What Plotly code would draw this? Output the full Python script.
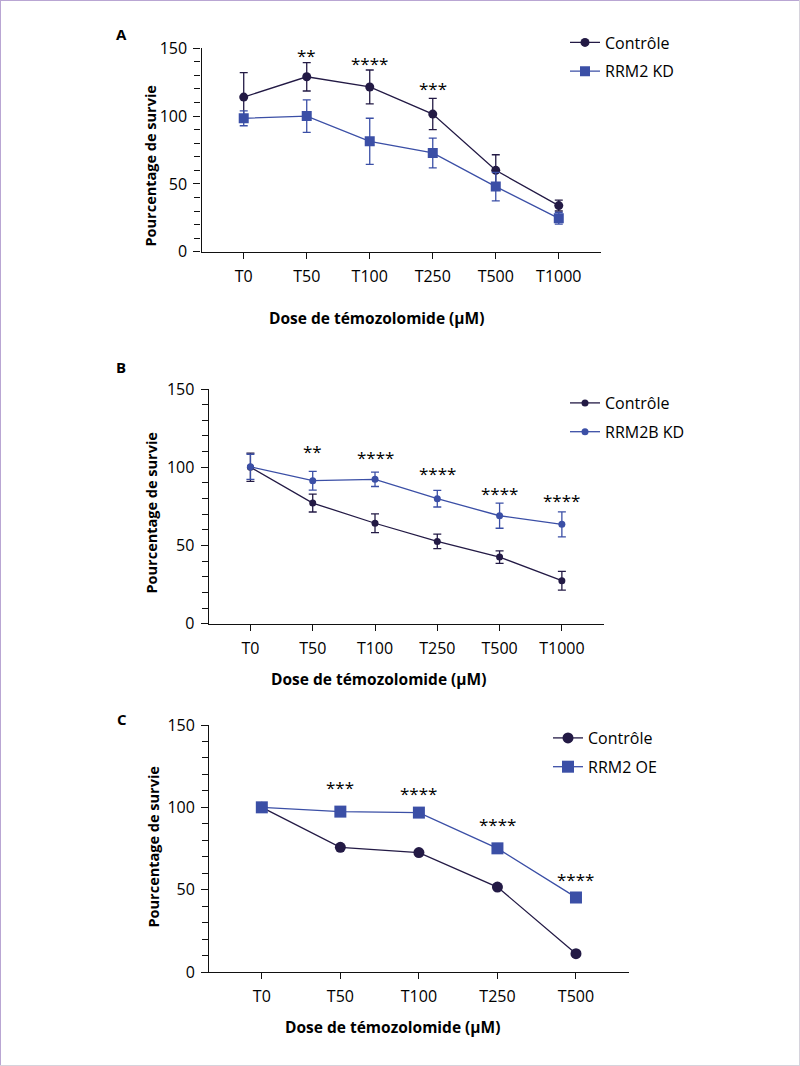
import plotly.graph_objects as go

# ---------------- data ----------------
doses_ab = ["T0", "T50", "T100", "T250", "T500", "T1000"]
doses_c = ["T0", "T50", "T100", "T250", "T500"]

# Panel A
a_ctrl = [114, 129, 121.5, 101.5, 60, 34]
a_ctrl_err = [18, 10.5, 12.5, 11.5, 11.5, 4]
a_kd = [98.4, 100, 81.4, 72.8, 48, 24.6]
a_kd_err = [5.5, 12, 17, 11, 10.5, 4.3]
a_stars = ["", "**", "****", "***", "", ""]
a_star_y = [0, 147, 141, 122.7, 0, 0]

# Panel B
b_ctrl = [100, 77.1, 64.2, 52.6, 42.6, 27.5]
b_ctrl_err = [9, 5.7, 6, 4.6, 4, 6]
b_kd = [100.3, 91.4, 92.3, 79.9, 69, 63.5]
b_kd_err = [8, 6, 4.6, 5.3, 8, 8]
b_stars = ["", "**", "****", "****", "****", "****"]
b_star_y = [0, 112.1, 108, 97.6, 85, 80.5]

# Panel C
c_ctrl = [100, 75.7, 72.5, 51.6, 11.1]
c_oe = [100, 97.4, 96.8, 75.1, 45.3]
c_stars = ["", "***", "****", "****", "****"]
c_star_y = [0, 113.7, 110.5, 91.7, 57.9]

names = {"ctrl": "Contrôle", "a": "RRM2 KD", "b": "RRM2B KD", "c": "RRM2 OE"}
x_title = "Dose de témozolomide (µM)"
y_title = "Pourcentage de survie"

# ---------------- styles ----------------
DARK = "#231a45"
BLUE = "#3b4fa6"
TXT = "#000"
FONT = "Open Sans"
W, H = 800, 1066


def px_x(p):
    return p / W


def px_y(p):
    return 1 - p / H


fig = go.Figure()


def err(vals, color):
    return dict(type="data", array=vals, visible=True, color=color,
                thickness=1.3, width=4)


# Panel A traces
fig.add_trace(go.Scatter(x=doses_ab, y=a_ctrl, name=names["ctrl"], mode="lines+markers",
                         line=dict(color=DARK, width=1.3),
                         marker=dict(symbol="circle", size=9, color=DARK),
                         error_y=err(a_ctrl_err, DARK), xaxis="x", yaxis="y",
                         legend="legend", legendgroup="a1"))
fig.add_trace(go.Scatter(x=doses_ab, y=a_kd, name=names["a"], mode="lines+markers",
                         line=dict(color=BLUE, width=1.3),
                         marker=dict(symbol="square", size=10, color=BLUE),
                         error_y=err(a_kd_err, BLUE), xaxis="x", yaxis="y",
                         legend="legend", legendgroup="a2"))
# Panel B traces
fig.add_trace(go.Scatter(x=doses_ab, y=b_ctrl, name=names["ctrl"], mode="lines+markers",
                         line=dict(color=DARK, width=1.3),
                         marker=dict(symbol="circle", size=7, color=DARK),
                         error_y=err(b_ctrl_err, DARK), xaxis="x2", yaxis="y2",
                         legend="legend2", legendgroup="b1"))
fig.add_trace(go.Scatter(x=doses_ab, y=b_kd, name=names["b"], mode="lines+markers",
                         line=dict(color=BLUE, width=1.3),
                         marker=dict(symbol="circle", size=7, color=BLUE),
                         error_y=err(b_kd_err, BLUE), xaxis="x2", yaxis="y2",
                         legend="legend2", legendgroup="b2"))
# Panel C traces
fig.add_trace(go.Scatter(x=doses_c, y=c_ctrl, name=names["ctrl"], mode="lines+markers",
                         line=dict(color=DARK, width=1.3),
                         marker=dict(symbol="circle", size=11, color=DARK),
                         xaxis="x3", yaxis="y3",
                         legend="legend3", legendgroup="c1"))
fig.add_trace(go.Scatter(x=doses_c, y=c_oe, name=names["c"], mode="lines+markers",
                         line=dict(color=BLUE, width=1.3),
                         marker=dict(symbol="square", size=12, color=BLUE),
                         xaxis="x3", yaxis="y3",
                         legend="legend3", legendgroup="c2"))

# ---------------- axes ----------------
tickfont = dict(family=FONT, size=16, color=TXT)


def xaxis(domain, anchor, n):
    return dict(domain=domain, anchor=anchor, type="category",
                range=[-0.67, n - 1 + 0.67], showline=True, linecolor="#111",
                linewidth=1.3, ticks="outside", ticklen=6, tickwidth=1.3,
                tickcolor="#111", tickfont=tickfont, showgrid=False,
                zeroline=False, ticklabelstandoff=4, automargin=False)


def yaxis(domain, anchor):
    return dict(domain=domain, anchor=anchor, range=[0, 150], tickvals=[0, 50, 100, 150],
                showline=True, linecolor="#111", linewidth=1.3, ticks="outside",
                ticklen=7, tickwidth=1.3, tickcolor="#111", tickfont=tickfont,
                minor=dict(dtick=10, ticks="outside", ticklen=6, tickwidth=1.3,
                           tickcolor="#111", showgrid=False),
                showgrid=False, zeroline=False, ticklabelstandoff=3, automargin=False)


fig.update_layout(
    xaxis=xaxis([px_x(201.5), px_x(601)], "y", len(doses_ab)),
    yaxis=yaxis([px_y(251.7), px_y(48.3)], "x"),
    xaxis2=xaxis([px_x(208.7), px_x(603.6)], "y2", len(doses_ab)),
    yaxis2=yaxis([px_y(623.7), px_y(389)], "x2"),
    xaxis3=xaxis([px_x(209.2), px_x(628.6)], "y3", len(doses_c)),
    yaxis3=yaxis([px_y(972), px_y(725)], "x3"),
)

# ---------------- legends ----------------
legfont = dict(family=FONT, size=16, color=TXT)


def legend(xpx, ypx):
    return dict(x=px_x(xpx), y=px_y(ypx), xanchor="left", yanchor="top",
                font=legfont, bgcolor="rgba(0,0,0,0)", tracegroupgap=5,
                traceorder="grouped", itemwidth=30)


fig.update_layout(
    legend=legend(565, 25.5),
    legend2=legend(565, 386),
    legend3=legend(548, 721),
)

# ---------------- annotations ----------------
ann = []
for xs, stars, ys, xr, yr in [(doses_ab, a_stars, a_star_y, "x", "y"),
                              (doses_ab, b_stars, b_star_y, "x2", "y2"),
                              (doses_c, c_stars, c_star_y, "x3", "y3")]:
    for xv, s, yv in zip(xs, stars, ys):
        if s:
            ann.append(dict(x=xv, y=yv, xref=xr, yref=yr, text=s, showarrow=False,
                            font=dict(family=FONT, size=17, color=TXT),
                            yshift=-3, xanchor="center", yanchor="middle"))

for letter, xpx, ypx in [("A", 121, 34), ("B", 121.4, 367), ("C", 122, 719)]:
    ann.append(dict(x=px_x(xpx), y=px_y(ypx), xref="paper", yref="paper", text=letter,
                    showarrow=False, font=dict(family=FONT, size=15, color=TXT, weight="bold"),
                    xanchor="center", yanchor="middle"))

# axis titles (placed like in the original figure)
for xpx, ypx in [(376, 318), (378, 679), (392, 1027)]:
    ann.append(dict(x=px_x(xpx), y=px_y(ypx), xref="paper", yref="paper", text=x_title,
                    showarrow=False,
                    font=dict(family=FONT, size=15.5, color=TXT, weight="bold"),
                    xanchor="center", yanchor="middle"))
for xpx, ypx in [(150.5, 166), (150.5, 513), (153, 847.5)]:
    ann.append(dict(x=px_x(xpx), y=px_y(ypx), xref="paper", yref="paper", text=y_title,
                    showarrow=False, textangle=-90,
                    font=dict(family=FONT, size=14.5, color=TXT, weight="bold"),
                    xanchor="center", yanchor="middle"))

fig.update_layout(annotations=ann)

# frame of the figure
fig.update_layout(shapes=[
    dict(type="line", xref="paper", yref="paper", x0=0, x1=0, y0=0, y1=1,
         line=dict(color="#b9a6d3", width=2)),
    dict(type="line", xref="paper", yref="paper", x0=0, x1=1, y0=1, y1=1,
         line=dict(color="#b9a6d3", width=2)),
    dict(type="line", xref="paper", yref="paper", x0=1, x1=1, y0=0, y1=1,
         line=dict(color="#d6d3dc", width=2)),
    dict(type="line", xref="paper", yref="paper", x0=0, x1=1, y0=0, y1=0,
         line=dict(color="#d6d3dc", width=2)),
])

fig.update_layout(width=W, height=H,
                  margin=dict(l=0, r=0, t=0, b=0, pad=0, autoexpand=False),
                  paper_bgcolor="white", plot_bgcolor="white",
                  font=dict(family=FONT, color=TXT), showlegend=True)

fig.write_html("out.html", config={"displayModeBar": False},
               post_script="document.body.style.margin='0';document.body.style.overflow='hidden';")
